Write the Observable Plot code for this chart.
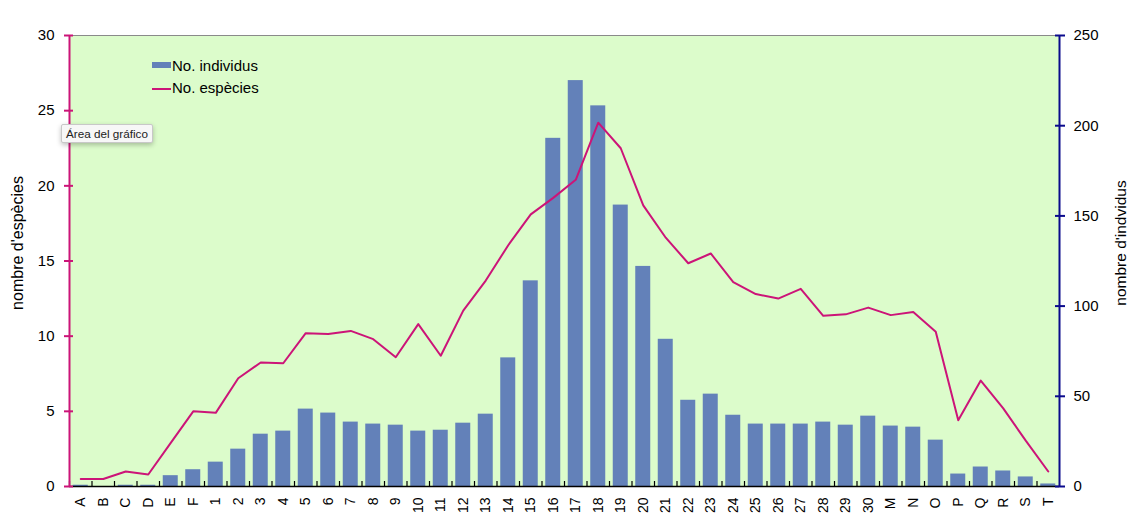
<!DOCTYPE html>
<html><head><meta charset="utf-8">
<script src="https://cdn.jsdelivr.net/npm/d3@7"></script>
<script src="https://cdn.jsdelivr.net/npm/@observablehq/plot@0.6"></script>
<style>
html,body{margin:0;padding:0;background:#fff;}
body{font-family:"Liberation Sans",Arial,Helvetica,sans-serif;}
#wrap{position:relative;width:1137px;height:524px;overflow:hidden;}
#wrap svg{position:absolute;left:0;top:0;}
.leg{position:absolute;font-size:15px;color:#000;white-space:nowrap;line-height:1;}
.tip{position:absolute;left:61px;top:124px;width:90px;height:17px;background:#f7f7f7;border:1px solid #c8c8c8;border-radius:2px;box-shadow:0 2px 5px rgba(0,0,0,0.25);font-size:11.7px;color:#222;line-height:17px;text-align:center;white-space:nowrap;}
</style></head><body><div id="wrap"></div>
<script>
const categories = ["A","B","C","D","E","F","1","2","3","4","5","6","7","8","9","10","11","12","13","14","15","16","17","18","19","20","21","22","23","24","25","26","27","28","29","30","M","N","O","P","Q","R","S","T"];
const individus = [0.7,0,0.7,0.7,6,9.3,13.5,20.7,29,30.7,42.9,40.7,35.7,34.6,34,30.7,31.2,35.1,40.1,71.3,114,193,225,211,156,122,81.6,47.8,51.2,39.5,34.6,34.6,34.6,35.7,34,39,33.5,32.9,25.7,6.9,10.8,8.6,5.3,1.4];
const especies = [0.5,0.5,1.0,0.8,2.9,5.0,4.9,7.2,8.25,8.2,10.2,10.15,10.35,9.8,8.6,10.8,8.7,11.7,13.7,16.05,18.1,19.2,20.4,24.2,22.5,18.7,16.55,14.85,15.5,13.6,12.8,12.5,13.15,11.35,11.45,11.9,11.4,11.6,10.3,4.4,7.05,5.2,3.05,1.0];
const leftTicks = [0,5,10,15,20,25,30];
const rightTicks = [0,50,100,150,200,250];
const seriesNames = ["No. individus","No. espècies"];
const axisTitles = ["nombre d'espècies","nombre d'indvidus"];
const tipText = "Área del gráfico";

const leftMax = 30, rightMax = 250;
const k = leftMax / rightMax;
const table = categories.map((c, i) => ({cat: c, ind: individus[i], esp: especies[i]}));

const MAG = "#cc1478", NAVY = "#0a0a8c", BAR = "#6381b9", BG = "#dcfccb";
const W = 1137, H = 524, mL = 69, mR = 78, mT = 35, mB = 38;
const half = (W - mL - mR) / categories.length / 2;

const chart = Plot.plot({
  width: W, height: H,
  marginLeft: mL, marginRight: mR, marginTop: mT, marginBottom: mB,
  style: {fontFamily: "'Liberation Sans', Arial, sans-serif", background: "transparent", color: "#000"},
  x: {type: "band", domain: categories, range: [mL, W - mR], paddingInner: 0, paddingOuter: 0, align: 0.5, round: false, label: null},
  y: {domain: [0, leftMax], label: null},
  marks: [
    Plot.frame({fill: BG, stroke: null}),
    Plot.barY(table, {x: "cat", y: d => d.ind * k, fill: BAR, insetLeft: half / 3, insetRight: half / 3}),
    Plot.lineY(table, {x: "cat", y: "esp", stroke: MAG, strokeWidth: 2}),
    Plot.ruleY([leftMax], {stroke: "#8a8a8a", strokeWidth: 1}),
    // bottom axis line
    Plot.ruleY([0], {stroke: "#000", strokeWidth: 1.5}),
    // boundary ticks on x axis
    Plot.axisX({anchor: "bottom", tickSize: 6, dy: -5, dx: -half, tickFormat: () => "", stroke: "#000", strokeWidth: 1.2}),
    Plot.axisX({anchor: "bottom", tickSize: 0, tickPadding: 11, tickRotate: -90, fontSize: 14, fill: "#000", label: null}),
    // left axis
    Plot.ruleX([categories[0]], {dx: -half, stroke: MAG, strokeWidth: 2}),
    Plot.axisY(leftTicks, {anchor: "left", tickSize: 9, dx: 4, tickPadding: 10, stroke: MAG, strokeWidth: 2, fill: "#000", fontSize: 15, label: null}),
    // right axis
    Plot.ruleX([categories[categories.length - 1]], {dx: half, stroke: NAVY, strokeWidth: 2}),
    Plot.axisY(rightTicks.map(v => v * k), {anchor: "right", tickSize: 10, dx: -5, tickPadding: 9, tickFormat: d => String(Math.round(d / k)), stroke: NAVY, strokeWidth: 2, fill: "#000", fontSize: 15, label: null}),
    // axis titles
    Plot.text([axisTitles[0]], {text: d => d, frameAnchor: "left", textAnchor: "middle", dx: -52, dy: -18, rotate: -90, fontSize: 16, fill: "#000"}),
    Plot.text([axisTitles[1]], {text: d => d, frameAnchor: "right", textAnchor: "middle", dx: 62, dy: -18, rotate: -90, fontSize: 15.5, fill: "#000"})
  ]
});
const wrap = document.getElementById("wrap");
wrap.appendChild(chart);

// legend (inside plot area)
const legend = [
  {name: seriesNames[0], type: "bar", top: 57},
  {name: seriesNames[1], type: "line", top: 79}
];
for (const l of legend) {
  const sw = document.createElement("div");
  sw.style.position = "absolute";
  sw.style.left = "152px";
  sw.style.width = "19px";
  if (l.type === "bar") { sw.style.top = "62px"; sw.style.height = "6px"; sw.style.background = BAR; }
  else { sw.style.top = "88px"; sw.style.height = "2px"; sw.style.background = MAG; }
  wrap.appendChild(sw);
  const t = document.createElement("div");
  t.className = "leg";
  t.style.left = "172px";
  t.style.top = (l.top + 1) + "px";
  t.textContent = l.name;
  wrap.appendChild(t);
}
const tip = document.createElement("div");
tip.className = "tip";
tip.textContent = tipText;
wrap.appendChild(tip);
</script>
</body></html>
